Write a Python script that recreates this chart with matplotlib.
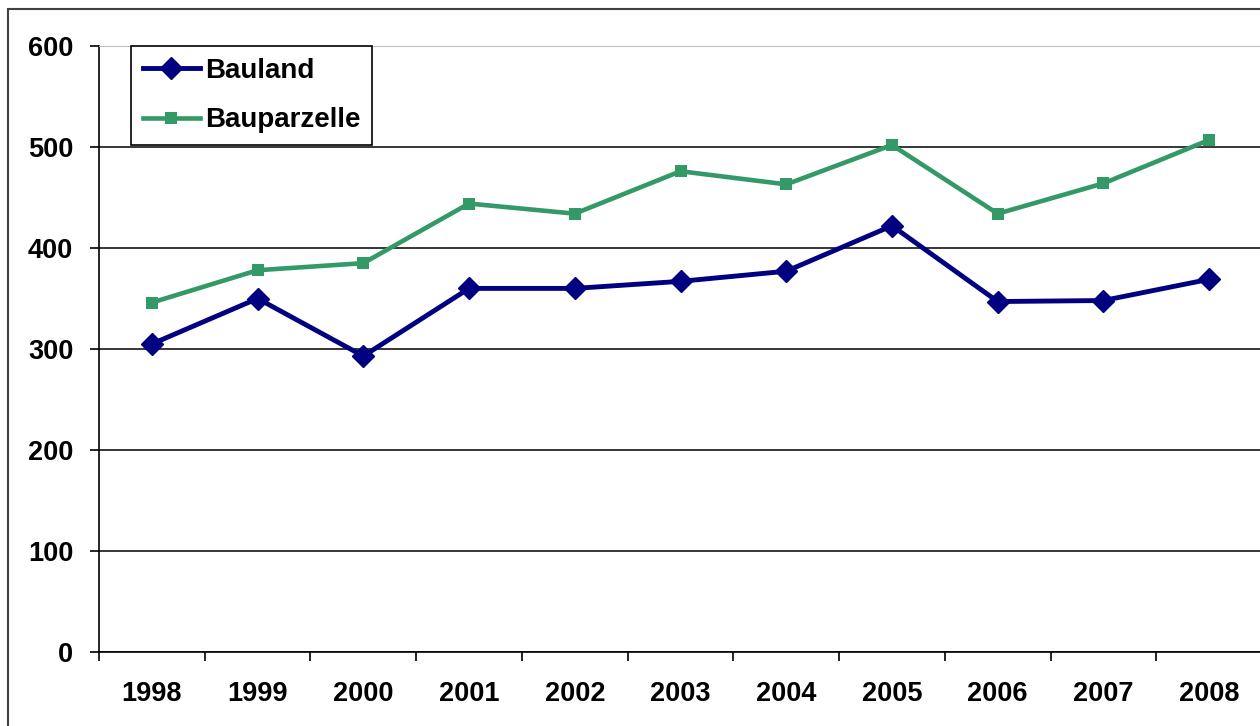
import matplotlib
matplotlib.use('Agg')
import matplotlib.pyplot as plt
from matplotlib.patches import Rectangle

years = ['1998', '1999', '2000', '2001', '2002', '2003', '2004', '2005', '2006', '2007', '2008']
bauland = [305, 350, 293, 360, 360, 367, 377, 422, 347, 348, 369]
bauparzelle = [346, 378, 385, 444, 434, 476, 463, 502, 434, 464, 507]
y_ticks = [0, 100, 200, 300, 400, 500, 600]

plt.rcParams['font.family'] = ['Liberation Sans', 'DejaVu Sans']
plt.rcParams['font.weight'] = 'bold'

fig = plt.figure(figsize=(12.6, 7.26), dpi=100)
ax = fig.add_axes([99 / 1260, 74 / 726, 1163 / 1260, 606 / 726])

x = list(range(len(years)))
ax.plot(x, bauland, color='#000080', linewidth=3.5, marker='D', markersize=11,
        markeredgewidth=1, label='Bauland', zorder=4)
ax.plot(x, bauparzelle, color='#339966', linewidth=3.3, marker='s', markersize=8.5,
        markeredgewidth=0, label='Bauparzelle', zorder=3)

ax.set_xlim(-0.5, len(years) - 0.5)
ax.set_ylim(0, 600)
ax.set_yticks(y_ticks)
ax.set_yticklabels([str(v) for v in y_ticks], fontsize=19.5, fontweight='bold')
# category separators as major ticks, year labels on minor ticks
ax.set_xticks([i + 0.5 for i in range(len(years) - 1)] + [-0.5])
ax.set_xticklabels([''] * len(years))
ax.set_xticks(x, minor=True)
ax.set_xticklabels(years, minor=True, fontsize=19.5, fontweight='bold')
ax.tick_params(axis='x', which='major', length=6.5, width=1.2, direction='out', color='black')
ax.tick_params(axis='x', which='minor', length=0, pad=21)
ax.tick_params(axis='y', length=6.5, width=1.2, direction='out', pad=12)

ax.yaxis.grid(True, color='black', linewidth=1.1)
ax.yaxis.get_gridlines()[-1].set_color('#c0c0c0')
ax.set_axisbelow(True)
ax.spines['right'].set_visible(False)
ax.spines['top'].set_color('#c0c0c0')
ax.spines['left'].set_linewidth(1.2)
ax.spines['bottom'].set_linewidth(1.2)

leg = ax.legend(loc='upper left', bbox_to_anchor=(32 / 1163, 1.0), borderaxespad=0,
                fancybox=False, edgecolor='black', framealpha=1,
                handlelength=2.05, handletextpad=0.2, borderpad=0.42, labelspacing=0.85,
                prop={'weight': 'bold', 'size': 20})
leg.get_frame().set_linewidth(1.2)

fig.patches.append(Rectangle((8 / 1260, -0.2), 2.0, 1.2 - 9 / 726, transform=fig.transFigure,
                             fill=False, edgecolor='#404040', linewidth=1.5))

fig.savefig('out.png', dpi=100)
